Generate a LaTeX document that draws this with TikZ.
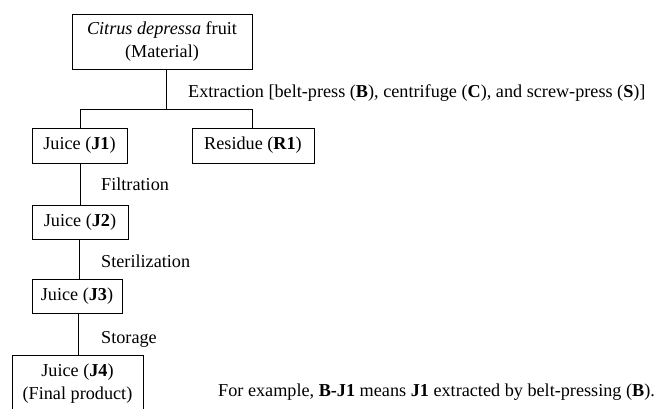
\documentclass[tikz,border=0pt]{standalone}
\usepackage{fontspec}
\setmainfont{Liberation Serif}
\begin{document}
\begin{tikzpicture}[x=1pt,y=-1pt,
  box/.style={draw,line width=1pt,inner sep=0pt,align=center,font=\fontsize{18.2}{23}\selectfont},
  lbl/.style={anchor=west,inner sep=0pt,font=\fontsize{18.2}{22}\selectfont},
  conn/.style={line width=1pt}]
\useasboundingbox (0,0) rectangle (654,408);
\clip (0,0) rectangle (654,408);
\node[box,minimum width=180,minimum height=55] (mat) at (162,41.5) {\textit{Citrus depressa} fruit\\(Material)};
\node[box,minimum width=95,minimum height=35] (j1) at (79.5,145.5) {Juice (\textbf{J1})};
\node[box,minimum width=122,minimum height=35] (r1) at (253,145.5) {Residue (\textbf{R1})};
\node[box,minimum width=96,minimum height=34] (j2) at (80,222) {Juice (\textbf{J2})};
\node[box,minimum width=90,minimum height=34] (j3) at (77,296) {Juice (\textbf{J3})};
\node[box,minimum width=131,minimum height=60,anchor=north,text depth=0pt] (j4) at (77.5,355) {};
\node[font=\fontsize{18.2}{23}\selectfont,align=center,inner sep=0pt] (j4t) at (77.5,384) {Juice (\textbf{J4})\\(Final product)};
\coordinate (jn) at (166,109);
\coordinate (jl) at (80,109);
\coordinate (jr) at (252,109);
\draw[conn] (mat.south -| jn) -- (jn);
\draw[conn] (j1.north -| jl) -- (jl) -- (jr) -- (r1.north -| jr);
\draw[conn] (j1.south -| 80,0) -- (j2.north -| 80,0);
\draw[conn] (j2.south -| 79,0) -- (j3.north -| 79,0);
\draw[conn] (j3.south -| 78,0) -- (j4.north -| 78,0);
\node[lbl] (ext) at (188,93) {Extraction [belt-press (\textbf{B}), centrifuge (\textbf{C}), and screw-press (\textbf{S})]};
\node[lbl] (fil) at (101,184) {Filtration};
\node[lbl] (ste) at (101,261) {Sterilization};
\node[lbl] (sto) at (101,339) {Storage};
\node[lbl] (note) at (218,392) {For example, \textbf{B-J1} means \textbf{J1} extracted by belt-pressing (\textbf{B}).};
\end{tikzpicture}
\end{document}
